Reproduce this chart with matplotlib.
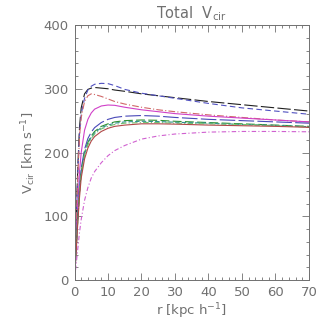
import numpy as np
import matplotlib
matplotlib.use('Agg')
import matplotlib.pyplot as plt
from matplotlib.ticker import MultipleLocator

# radius grid [kpc/h]
r = [0, 0.5, 1, 1.5, 2, 3, 4, 5, 6, 8, 10, 12, 15, 20, 25, 30, 40, 50, 60, 70]

v_blue_dash = [0, 90, 170, 230, 260, 285, 298, 304, 307, 308.5, 308, 305, 299, 293, 289, 285, 277, 270, 265, 260]
v_black = [0, 95, 180, 240, 270, 292, 299, 301, 302, 301, 300, 298, 296, 292, 289, 286, 280, 275, 270, 265]
v_salmon = [0, 85, 165, 225, 255, 280, 289, 292, 291, 288, 284, 280, 276, 271, 267, 264, 259, 255, 251, 248]
v_magenta = [0, 60, 120, 170, 200, 235, 252, 262, 268, 273, 274.5, 274, 271, 267, 264, 261, 257, 254, 251, 248]
v_blue = [0, 50, 100, 145, 175, 205, 222, 232, 239, 247, 252, 255, 257, 258, 257, 255, 252, 250, 248, 246]
v_green = [0, 50, 100, 140, 170, 200, 216, 226, 233, 241, 245, 248, 250, 251, 250.5, 249, 247, 245, 243, 241]
v_teal = [0, 49, 97, 138, 168, 198, 214, 224, 231, 239, 243, 246, 248, 249, 248.5, 247.5, 246, 244, 242.5, 240.5]
v_green2 = [0, 48, 95, 135, 165, 196, 212, 222, 229, 237, 241, 244, 246, 247, 247, 246, 245, 244, 242, 240]
v_brown = [0, 45, 92, 130, 160, 190, 207, 218, 225, 233, 238, 241, 243, 245, 245, 244.5, 243, 242, 241, 239.5]
v_pink = [0, 25, 50, 75, 95, 125, 145, 160, 170, 184, 195, 203, 211, 221, 226, 229, 232, 233, 233, 232.5]

curves = [
    (v_black, '#202020', (0, (12, 3))),
    (v_blue_dash, '#5050c0', (0, (5, 3))),
    (v_salmon, '#d06868', (0, (6, 2, 1, 2))),
    (v_magenta, '#d040c8', '-'),
    (v_blue, '#4848b8', (0, (14, 3))),
    (v_green, '#309030', (0, (8, 3))),
    (v_teal, '#309090', (0, (4, 2))),
    (v_green2, '#70c070', (0, (5, 2, 1, 2))),
    (v_brown, '#b04848', '-'),
    (v_pink, '#d060d0', (0, (4, 2, 1, 2))),
]

grey = '#707070'
plt.rcParams['font.family'] = 'DejaVu Sans'

fig = plt.figure(figsize=(3.32, 3.32), dpi=100)
ax = fig.add_axes([0.2244, 0.1566, 0.7063, 0.7681])

for v, c, ls in curves:
    ax.plot(r, v, color=c, linestyle=ls, linewidth=0.8)

ax.set_xlim(0, 70)
ax.set_ylim(0, 400)
ax.xaxis.set_major_locator(MultipleLocator(10))
ax.xaxis.set_minor_locator(MultipleLocator(2))
ax.yaxis.set_major_locator(MultipleLocator(100))
ax.yaxis.set_minor_locator(MultipleLocator(20))
ax.tick_params(which='both', direction='in', top=True, right=True,
               colors=grey, labelsize=9.5, width=0.6)
ax.tick_params(which='major', length=5, pad=4)
ax.tick_params(which='minor', length=2.5)
for s in ax.spines.values():
    s.set_color(grey)
    s.set_linewidth(0.7)

ax.set_title('Total  V$_{\\rm cir}$', fontsize=10.5, color=grey, pad=5)
ax.set_xlabel('r [kpc h$^{-1}$]', fontsize=9.5, color=grey, labelpad=2)
ax.set_ylabel('V$_{\\rm cir}$ [km s$^{-1}$]', fontsize=9.5, color=grey)

plt.savefig('out.png', dpi=100)
